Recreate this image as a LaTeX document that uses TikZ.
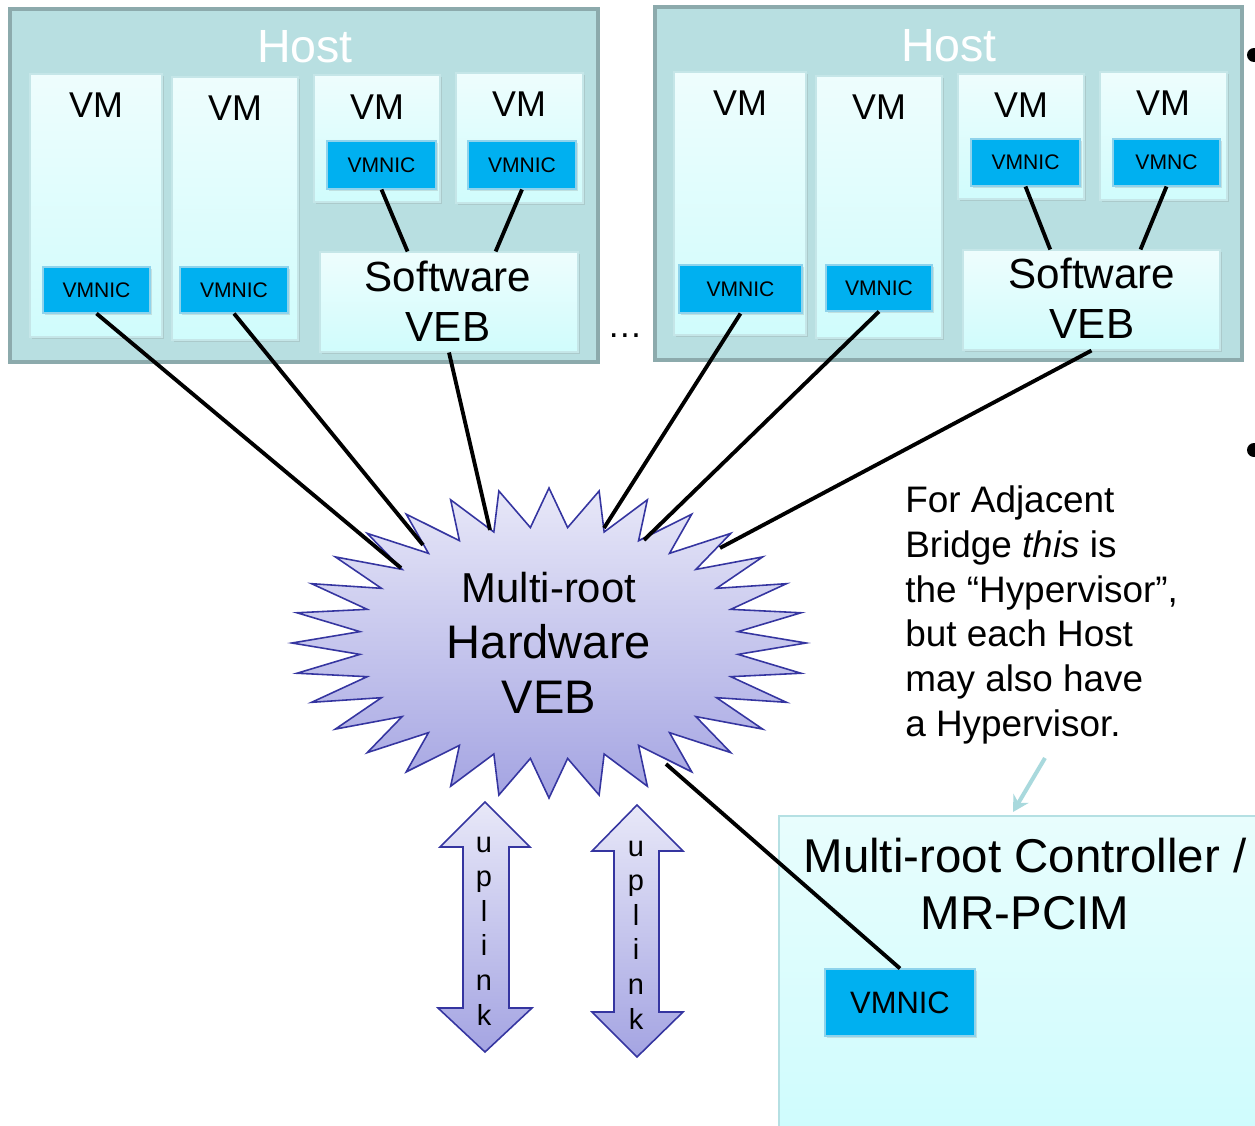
\documentclass[tikz,border=0pt]{standalone}
\usepackage{fontspec}
\setmainfont{Liberation Sans}
\usetikzlibrary{shadows,arrows.meta,fit,calc}
\definecolor{hostfill}{HTML}{B8DFE1}
\definecolor{hostdraw}{HTML}{8CAAAC}
\definecolor{vmtop}{HTML}{EEFDFD}
\definecolor{vmbot}{HTML}{D0FCFC}
\definecolor{vmdraw}{HTML}{C5E6E8}
\definecolor{nicfill}{HTML}{00B0F0}
\definecolor{nicdraw}{HTML}{8ED3EC}
\definecolor{startop}{HTML}{E8E8F8}
\definecolor{starbot}{HTML}{A4A4E2}
\definecolor{stardraw}{HTML}{3535A0}
\definecolor{ctrltop}{HTML}{E8FDFD}
\definecolor{ctrlbot}{HTML}{CEFCFD}
\definecolor{ctrldraw}{HTML}{B5E0E3}
\definecolor{callout}{HTML}{A9D9DD}
\begin{document}
\begin{tikzpicture}[x=0.02cm,y=-0.02cm,
  hostbox/.style={draw=hostdraw, fill=hostfill, line width=2.3pt, inner sep=0pt},
  vmbox/.style={draw=vmdraw, line width=0.6pt, top color=vmtop, bottom color=vmbot, inner sep=0pt,
    drop shadow={shadow xshift=1.2pt, shadow yshift=-1.2pt, opacity=0.22}},
  nicbox/.style={draw=nicdraw, line width=0.6pt, fill=nicfill, inner sep=0pt,
    drop shadow={shadow xshift=1.2pt, shadow yshift=-1.2pt, opacity=0.22}},
  ctrlbox/.style={draw=ctrldraw, line width=1.2pt, top color=ctrltop, bottom color=ctrlbot, inner sep=0pt},
  hostlbl/.style={text=white, font=\fontsize{26.5}{30}\selectfont, inner sep=0pt},
  vmlbl/.style={font=\fontsize{20.4}{24}\selectfont, inner sep=0pt},
  niclbl/.style={font=\fontsize{12}{14}\selectfont, inner sep=0pt},
  veblbl/.style={font=\fontsize{24}{28.3}\selectfont, align=center, inner sep=0pt},
  link/.style={draw=black, line width=2.2pt},
  starshape/.style={draw=stardraw, line width=0.9pt, top color=startop, bottom color=starbot, line join=miter},
  uparrow/.style={draw=stardraw, line width=0.9pt, top color=startop, bottom color=starbot},
  uplbl/.style={font=\fontsize{16.5}{19.7}\selectfont, align=center, inner sep=0pt}]
\useasboundingbox (0,0) rectangle (1255,1126);
\begin{scope}
\clip (0,0) rectangle (1255,1126);

% bullets cut at the right edge
\fill[black] (1254,55) circle (7);
\fill[black] (1254,450) circle (7);

% ---------- Host 1 ----------
\node[hostbox, fit={(10,9) (598,362)}] (host1) {};
\node[hostlbl] (h1title) at (305,47) {Host};
\node[vmbox, fit={(30,74) (162,337)}] (h1vm1) {};
\node[vmbox, fit={(172,77) (298,340)}] (h1vm2) {};
\node[vmbox, fit={(314,75) (440,202)}] (h1vm3) {};
\node[vmbox, fit={(456,73) (583,203)}] (h1vm4) {};
\node[vmbox, fit={(320,252) (578,352)}] (h1veb) {};
\node[vmlbl] (h1vm1l) at (96,105) {VM};
\node[vmlbl] (h1vm2l) at (235,108) {VM};
\node[vmlbl] (h1vm3l) at (377,107) {VM};
\node[vmlbl] (h1vm4l) at (519,104) {VM};
\node[nicbox, fit={(43,267) (150,313)}] (h1nic1) {};
\node[nicbox, fit={(180,267) (288,313)}] (h1nic2) {};
\node[nicbox, fit={(327,141) (436,189)}] (h1nic3) {};
\node[nicbox, fit={(468,141) (576,189)}] (h1nic4) {};
\node[niclbl] at (h1nic1) {VMNIC};
\node[niclbl] at (h1nic2) {VMNIC};
\node[niclbl] at (h1nic3) {VMNIC};
\node[niclbl] at (h1nic4) {VMNIC};
\node[veblbl] (h1vebl) at (448,301) {Software\\VEB};
\draw[link] (h1nic3.south) -- ($(h1veb.north west)!0.34!(h1veb.north east)$);
\draw[link] (h1nic4.south) -- ($(h1veb.north west)!0.68!(h1veb.north east)$);

% ---------- Host 2 ----------
\node[hostbox, fit={(655,7) (1242,360)}] (host2) {};
\node[hostlbl] (h2title) at (949,46) {Host};
\node[vmbox, fit={(674,72) (806,335)}] (h2vm1) {};
\node[vmbox, fit={(816,76) (942,338)}] (h2vm2) {};
\node[vmbox, fit={(958,74) (1084,199)}] (h2vm3) {};
\node[vmbox, fit={(1100,72) (1227,200)}] (h2vm4) {};
\node[vmbox, fit={(963,250) (1220,350)}] (h2veb) {};
\node[vmlbl] (h2vm1l) at (740,103) {VM};
\node[vmlbl] (h2vm2l) at (879,107) {VM};
\node[vmlbl] (h2vm3l) at (1021,105) {VM};
\node[vmlbl] (h2vm4l) at (1163,103) {VM};
\node[nicbox, fit={(679,265) (802,313)}] (h2nic1) {};
\node[nicbox, fit={(826,265) (932,311)}] (h2nic2) {};
\node[nicbox, fit={(971,139) (1080,186)}] (h2nic3) {};
\node[nicbox, fit={(1113,139) (1220,186)}] (h2nic4) {};
\node[niclbl] at (h2nic1) {VMNIC};
\node[niclbl] at (h2nic2) {VMNIC};
\node[niclbl] at (h2nic3) {VMNIC};
\node[niclbl] at (h2nic4) {VMNC};
\node[veblbl] (h2vebl) at (1092,298) {Software\\VEB};
\draw[link] (h2nic3.south) -- ($(h2veb.north west)!0.34!(h2veb.north east)$);
\draw[link] (h2nic4.south) -- ($(h2veb.north west)!0.69!(h2veb.north east)$);

\node[font=\fontsize{20}{24}\selectfont, inner sep=0pt] (dots) at (625,336) {…};

% ---------- Controller ----------
\node[ctrlbox, fit={(779,816) (1268,1140)}] (ctrl) {};
\node[font=\fontsize{27}{32.3}\selectfont, align=center, inner sep=0pt] (ctrll) at (1025,884) {Multi-root Controller /\\MR-PCIM};
\node[nicbox, fit={(825,969) (975,1036)}] (cnic) {};
\node[font=\fontsize{17.6}{20}\selectfont, inner sep=0pt] at (cnic) {VMNIC};

% ---------- Star ----------
\begin{scope}[shift={(549,643)}]
\path[starshape] (0:257 and 155)
  \foreach \i in {0,...,31} { -- (\i*11.25+5.625:190 and 116) -- (\i*11.25+11.25:257 and 155) } -- cycle;
\end{scope}
\node[font=\fontsize{26.8}{31.7}\selectfont, align=center, inner sep=0pt] (star) at (549,643)
  {{\fontsize{23.8}{31.7}\selectfont Multi-root}\\Hardware\\VEB};

\coordinate (s1) at (401,568);
\coordinate (s2) at (423,545);
\coordinate (s3) at (490,530);
\coordinate (s4) at (604,528);
\coordinate (s5) at (644,540);
\coordinate (s6) at (720,548);
\coordinate (s7) at (666,764);

\draw[link] (h1nic1.south) -- (s1);
\draw[link] (h1nic2.south) -- (s2);
\draw[link] (h1veb.south) -- (s3);
\draw[link] (h2nic1.south) -- (s4);
\draw[link] (h2nic2.south) -- (s5);
\draw[link] (h2veb.south) -- (s6);
\draw[link] (s7) -- (cnic.north);

% ---------- uplink arrows ----------
\path[uparrow] (485,802) -- (530,847) -- (509,847) -- (509,1008) -- (532,1008) -- (485,1052)
  -- (438,1008) -- (463,1008) -- (463,847) -- (440,847) -- cycle;
\node[uplbl] (up1) at (484,931) {u\\p\\l\\i\\n\\k};
\path[uparrow] (637,805) -- (683,851) -- (659,851) -- (659,1012) -- (683,1012) -- (637,1057)
  -- (592,1012) -- (614,1012) -- (614,851) -- (592,851) -- cycle;
\node[uplbl] (up2) at (636,935) {u\\p\\l\\i\\n\\k};

% ---------- annotation ----------
\node[font=\fontsize{21}{25.5}\selectfont, align=left, anchor=west, inner sep=0pt] (note) at (905,615)
  {For Adjacent\\Bridge \textit{this} is\\the “Hypervisor”,\\but each Host\\may also have\\a Hypervisor.};
\coordinate (calloutstart) at (1045,758);
\coordinate (calloutend) at (1013,812);
\draw[draw=callout, line width=2.3pt, -{Stealth[length=9pt,width=10pt]}] (calloutstart) -- (calloutend);
\end{scope}
\end{tikzpicture}
\end{document}
